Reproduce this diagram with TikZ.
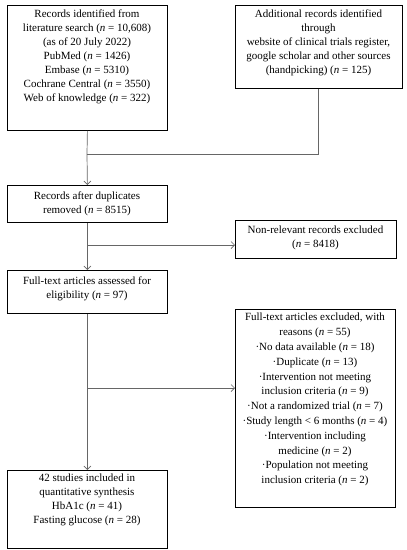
\documentclass[tikz,border=0pt]{standalone}
\usepackage{fontspec}
\setmainfont{Liberation Serif}
\usetikzlibrary{arrows.meta}
\begin{document}
\begin{tikzpicture}[x=1pt,y=-1pt,
  box/.style={draw=black,line width=0.8pt,inner sep=0pt,anchor=north west},
  txt/.style={align=center,inner sep=0pt,font=\fontsize{11}{13.9}\selectfont},
  conn/.style={draw=black!60,line width=0.7pt},
  arr/.style={conn,-{Straight Barb[length=3.5pt,width=7pt]}}]
\useasboundingbox (0,0) rectangle (407,550);
% boxes
\node[box,minimum width=160pt,minimum height=125pt] (b1) at (7,5) {};
\node[txt,anchor=north] (t1) at (87,10) {Records identified from\\literature search (\textit{n} = 10,608)\\(as of 20 July 2022)\\PubMed (\textit{n} = 1426)\\Embase (\textit{n} = 5310)\\Cochrane Central (\textit{n} = 3550)\\Web of knowledge (\textit{n} = 322)};
\node[box,minimum width=167pt,minimum height=83pt] (b2) at (235,5) {};
\node[txt,anchor=north] (t2) at (318.5,9.5) {Additional records identified\\through\\website of clinical trials register,\\google scholar and other sources\\(handpicking) (\textit{n} = 125)};
\node[box,minimum width=160pt,minimum height=37pt] (b3) at (7,185) {};
\node[txt] (t3) at (87,204) {Records after duplicates\\removed (\textit{n} = 8515)};
\node[box,minimum width=161pt,minimum height=38pt] (nr) at (235,220) {};
\node[txt] (t4) at (315.5,238) {Non-relevant records excluded\\(\textit{n} = 8418)};
\node[box,minimum width=160pt,minimum height=43pt] (b4) at (7,270) {};
\node[txt] (t5) at (87,289) {Full-text articles assessed for\\eligibility (\textit{n} = 97)};
\node[box,minimum width=160pt,minimum height=198pt] (ex) at (235,309) {};
\node[txt,anchor=north,font=\fontsize{11}{14.8}\selectfont] (t6) at (315,313) {Full-text articles excluded, with\\reasons (\textit{n} = 55)\\·No data available (\textit{n} = 18)\\·Duplicate (\textit{n} = 13)\\·Intervention not meeting\\inclusion criteria (\textit{n} = 9)\\·Not a randomized trial (\textit{n} = 7)\\·Study length < 6 months (\textit{n} = 4)\\·Intervention including\\medicine (\textit{n} = 2)\\·Population not meeting\\inclusion criteria (\textit{n} = 2)};
\node[box,minimum width=160pt,minimum height=78pt] (b5) at (7,470) {};
\node[txt,anchor=north] (t7) at (87,473.5) {42 studies included in\\quantitative synthesis\\HbA1c (\textit{n} = 41)\\Fasting glucose (\textit{n} = 28)};
% connectors
\coordinate (j1) at (87,154);
\coordinate (j2) at (87,245);
\coordinate (j3) at (87,388);
\draw[conn] (b1.south) -- (j1);
\draw[conn] (b2.south -| 318,0) -- (318,154) -- (j1);
\draw[arr] (j1) -- (b3.north);
\draw[arr] (b3.south) -- (b4.north);
\draw[arr] (j2) -- (j2 -| nr.west);
\draw[arr] (b4.south) -- (b5.north);
\draw[arr] (j3) -- (j3 -| ex.west);
\end{tikzpicture}
\end{document}
